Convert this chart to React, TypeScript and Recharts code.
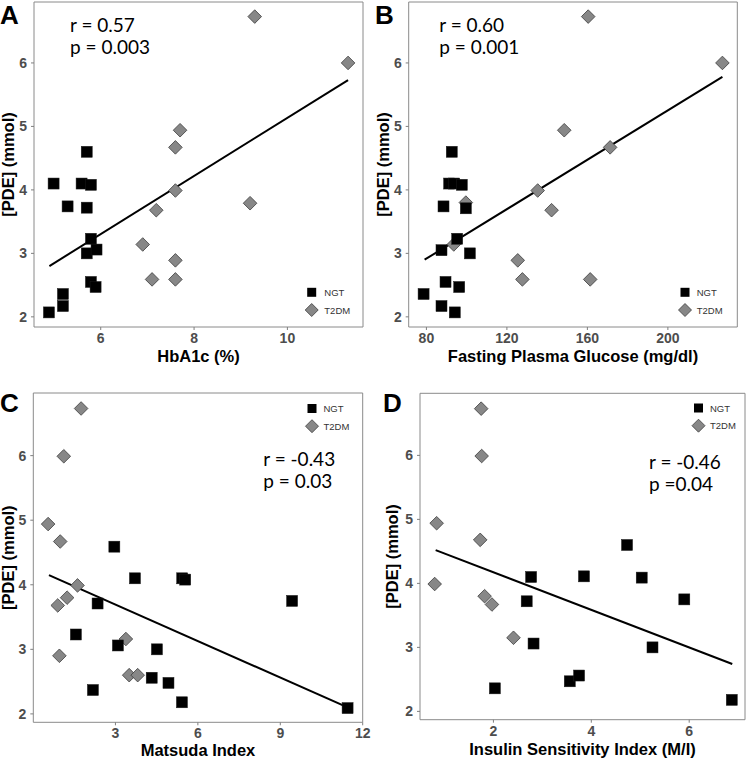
import React from 'react';
import { ScatterChart, Scatter, XAxis, YAxis, ReferenceArea, ReferenceLine, Label } from 'recharts';

const GROUPS = ['NGT', 'T2DM'];
const Y_TITLE = '[PDE] (mmol)';
const Y_TICKS = [2, 3, 4, 5, 6];

// A: HbA1c
const A_NGT_X = [4.89, 4.99, 5.19, 5.19, 5.29, 5.59, 5.7, 5.79, 5.7, 5.79, 5.7, 5.91, 5.79, 5.89];
const A_NGT_Y = [2.07, 4.1, 2.36, 2.17, 3.74, 4.1, 4.6, 4.08, 3.72, 3.23, 3.0, 3.06, 2.55, 2.47];
const A_T2DM_X = [9.3, 11.3, 7.7, 7.6, 7.6, 9.2, 7.19, 6.9, 7.6, 7.1, 7.6];
const A_T2DM_Y = [6.73, 6.0, 4.94, 4.67, 3.99, 3.79, 3.68, 3.14, 2.89, 2.59, 2.59];
const A_FIT = [[4.9, 2.8], [11.3, 5.73]];
const A_TICKS = [6, 8, 10];

// B: fasting plasma glucose
const B_NGT_X = [78.6, 87.5, 87.5, 89.5, 94.1, 96.3, 88.5, 99.6, 95.3, 101.6, 91.3, 93.8, 97.6, 92.6];
const B_NGT_Y = [2.36, 2.17, 3.05, 2.55, 2.07, 2.47, 3.74, 3.71, 3.23, 3.0, 4.1, 4.1, 4.08, 4.6];
const B_T2DM_X = [160.4, 227.1, 148.5, 171.3, 135.3, 99.6, 142.2, 93.6, 125.4, 127.7, 161.4];
const B_T2DM_Y = [6.73, 6.0, 4.94, 4.67, 3.99, 3.8, 3.68, 3.14, 2.89, 2.59, 2.59];
const B_FIT = [[79.1, 2.9], [227.1, 5.78]];
const B_TICKS = [80, 120, 160, 200];

// C: Matsuda index
const C_NGT_X = [2.96, 3.71, 5.43, 5.54, 9.43, 2.35, 1.56, 3.09, 4.51, 4.32, 4.93, 2.18, 5.42, 11.45];
const C_NGT_Y = [4.59, 4.1, 4.1, 4.08, 3.75, 3.71, 3.23, 3.06, 3.0, 2.56, 2.48, 2.37, 2.18, 2.09];
const C_T2DM_X = [1.75, 1.12, 0.55, 0.99, 1.62, 1.24, 0.9, 0.96, 3.38, 3.5, 3.81];
const C_T2DM_Y = [6.73, 5.99, 4.94, 4.67, 3.99, 3.8, 3.68, 2.9, 3.16, 2.6, 2.6];
const C_FIT = [[0.58, 4.15], [11.45, 2.1]];
const C_TICKS = [3, 6, 9, 12];

// D: insulin sensitivity index
const D_NGT_X = [2.77, 3.85, 4.73, 5.03, 5.9, 2.68, 2.82, 5.25, 2.03, 3.56, 3.75, 6.87];
const D_NGT_Y = [4.1, 4.11, 4.6, 4.09, 3.75, 3.72, 3.06, 3.0, 2.36, 2.47, 2.56, 2.18];
const D_T2DM_X = [1.75, 1.76, 0.84, 1.73, 0.8, 1.82, 1.97, 2.41];
const D_T2DM_Y = [6.73, 5.99, 4.94, 4.68, 3.99, 3.8, 3.67, 3.15];
const D_FIT = [[0.82, 4.52], [6.88, 2.74]];
const D_TICKS = [2, 4, 6];

const zip = (xs: number[], ys: number[]) => xs.map((x, i) => ({ x, y: ys[i] }));

const W = 375;
const H = 379;
const BOLD = '"Liberation Sans", Arial, sans-serif';

const Square = (props: any) => {
  const { cx, cy } = props;
  return <rect x={cx - 5.5} y={cy - 5.5} width={11} height={11} fill="#000" stroke="#1a1a1a" strokeWidth={0.5} />;
};

const Diamond = (props: any) => {
  const { cx, cy } = props;
  const r = 6.8;
  return (
    <polygon
      points={`${cx},${cy - r} ${cx + r},${cy} ${cx},${cy + r} ${cx - r},${cy}`}
      fill="#878787"
      stroke="#3c3c3c"
      strokeWidth={0.8}
    />
  );
};

const PANELS = [
  {
    letter: 'A', left: 0, top: 0,
    plot: { left: 34, right: 363, top: 2, bottom: 327 },
    xDomain: [4.57, 11.62], yDomain: [1.84, 6.96], xTicks: A_TICKS,
    xTitle: 'HbA1c (%)', xTitleY: 356, yTitleX: 8,
    ngt: zip(A_NGT_X, A_NGT_Y), t2dm: zip(A_T2DM_X, A_T2DM_Y), fit: A_FIT,
    stats: ['r = 0.57', 'p = 0.003'], statsX: 70, statsY: 14, letterTop: 0, letterLeft: 0,
    legend: { x: 311.7, y: 292.3, tx: 324.3 },
  },
  {
    letter: 'B', left: 375, top: 0,
    plot: { left: 33.7, right: 362.3, top: 2, bottom: 327 },
    xDomain: [71.2, 234.5], yDomain: [1.84, 6.96], xTicks: B_TICKS,
    xTitle: 'Fasting Plasma Glucose (mg/dl)', xTitleY: 356, yTitleX: 7.5,
    ngt: zip(B_NGT_X, B_NGT_Y), t2dm: zip(B_T2DM_X, B_T2DM_Y), fit: B_FIT,
    stats: ['r = 0.60', 'p = 0.001'], statsX: 64.3, statsY: 14, letterTop: 0, letterLeft: 0,
    legend: { x: 310, y: 292.3, tx: 321.7 },
  },
  {
    letter: 'C', left: 0, top: 379,
    plot: { left: 33.3, right: 362.7, top: 14, bottom: 343.3 },
    xDomain: [0.01, 12], yDomain: [1.87, 6.97], xTicks: C_TICKS,
    xTitle: 'Matsuda Index', xTitleY: 371, yTitleX: 8,
    ngt: zip(C_NGT_X, C_NGT_Y), t2dm: zip(C_T2DM_X, C_T2DM_Y), fit: C_FIT,
    stats: ['r = -0.43', 'p = 0.03'], statsX: 263.3, statsY: 69, letterTop: 8.5, letterLeft: 0,
    legend: { x: 312, y: 29.5, tx: 323.5 },
  },
  {
    letter: 'D', left: 375, top: 379,
    plot: { left: 45, right: 370, top: 14.3, bottom: 340.7 },
    xDomain: [0.5, 7.14], yDomain: [1.87, 6.97], xTicks: D_TICKS,
    xTitle: 'Insulin Sensitivity Index (M/I)', xTitleY: 370, yTitleX: 16.5,
    ngt: zip(D_NGT_X, D_NGT_Y), t2dm: zip(D_T2DM_X, D_T2DM_Y), fit: D_FIT,
    stats: ['r = -0.46', 'p =0.04'], statsX: 274, statsY: 72, letterTop: 8.5, letterLeft: 8,
    legend: { x: 323.5, y: 29, tx: 335 },
  },
];

function Panel({ p }: { p: any }) {
  const { plot } = p;
  const midX = (plot.left + plot.right) / 2;
  const midY = (plot.top + plot.bottom) / 2;
  const tickStyle = { fill: '#4d4d4d', fontSize: 14, fontWeight: 700, fontFamily: BOLD };
  return (
    <div style={{ position: 'absolute', left: p.left, top: p.top, width: W, height: H }}>
      <ScatterChart
        width={W}
        height={H}
        margin={{ top: plot.top, right: W - plot.right, bottom: 0, left: 0 }}
      >
        <XAxis
          type="number"
          dataKey="x"
          domain={p.xDomain}
          ticks={p.xTicks}
          allowDataOverflow
          axisLine={false}
          tickLine={{ stroke: '#7f7f7f' }}
          tickSize={3}
          tickMargin={3}
          tick={tickStyle}
          height={H - plot.bottom}
        >
          <Label
            content={() => (
              <text
                x={midX}
                y={p.xTitleY}
                textAnchor="middle"
                dominantBaseline="central"
                fontFamily={BOLD}
                fontWeight={700}
                fontSize={16.5}
                fill="#000"
              >
                {p.xTitle}
              </text>
            )}
          />
        </XAxis>
        <YAxis
          type="number"
          dataKey="y"
          domain={p.yDomain}
          ticks={Y_TICKS}
          allowDataOverflow
          axisLine={false}
          tickLine={{ stroke: '#7f7f7f' }}
          tickSize={3}
          tickMargin={4}
          tick={tickStyle}
          width={plot.left}
        >
          <Label
            content={() => (
              <text
                x={p.yTitleX}
                y={midY}
                transform={`rotate(-90, ${p.yTitleX}, ${midY})`}
                textAnchor="middle"
                dominantBaseline="central"
                fontFamily={BOLD}
                fontWeight={700}
                fontSize={16.5}
                fill="#000"
              >
                {Y_TITLE}
              </text>
            )}
          />
        </YAxis>
        <ReferenceArea
          x1={p.xDomain[0]}
          x2={p.xDomain[1]}
          y1={p.yDomain[0]}
          y2={p.yDomain[1]}
          fill="none"
          stroke="#8a8a8a"
          strokeWidth={1}
          ifOverflow="visible"
        />
        <Scatter name={GROUPS[1]} data={p.t2dm} shape={Diamond} isAnimationActive={false} />
        <Scatter name={GROUPS[0]} data={p.ngt} shape={Square} isAnimationActive={false} />
        <ReferenceLine
          segment={[{ x: p.fit[0][0], y: p.fit[0][1] }, { x: p.fit[1][0], y: p.fit[1][1] }]}
          stroke="#000"
          strokeWidth={2}
          ifOverflow="visible"
        />
      </ScatterChart>
      <div
        style={{
          position: 'absolute', left: p.letterLeft, top: p.letterTop,
          fontFamily: BOLD, fontWeight: 700, fontSize: 26, lineHeight: '30px', color: '#000',
        }}
      >
        {p.letter}
      </div>
      <div
        style={{
          position: 'absolute', left: p.statsX, top: p.statsY,
          fontFamily: 'Lato, "Open Sans", sans-serif', fontSize: 19, lineHeight: '22px', color: '#000',
          whiteSpace: 'pre',
        }}
      >
        {p.stats.map((s: string) => (
          <div key={s}>{s}</div>
        ))}
      </div>
      <svg
        width={W}
        height={H}
        style={{ position: 'absolute', left: 0, top: 0, pointerEvents: 'none' }}
      >
        <rect x={p.legend.x - 4.5} y={p.legend.y - 4.5} width={9} height={9} fill="#000" />
        <polygon
          points={`${p.legend.x},${p.legend.y + 17.7 - 6.5} ${p.legend.x + 6.5},${p.legend.y + 17.7} ${p.legend.x},${p.legend.y + 17.7 + 6.5} ${p.legend.x - 6.5},${p.legend.y + 17.7}`}
          fill="#878787"
          stroke="#3c3c3c"
          strokeWidth={0.8}
        />
        {GROUPS.map((g, i) => (
          <text
            key={g}
            x={p.legend.tx}
            y={p.legend.y + i * 17.7}
            dominantBaseline="central"
            fontFamily={BOLD}
            fontSize={9.5}
            fill="#333"
          >
            {g}
          </text>
        ))}
      </svg>
    </div>
  );
}

export default function App() {
  return (
    <div style={{ position: 'absolute', left: 0, top: 0, width: 750, height: 758, background: '#fff' }}>
      {PANELS.map((p) => (
        <Panel key={p.letter} p={p} />
      ))}
    </div>
  );
}
